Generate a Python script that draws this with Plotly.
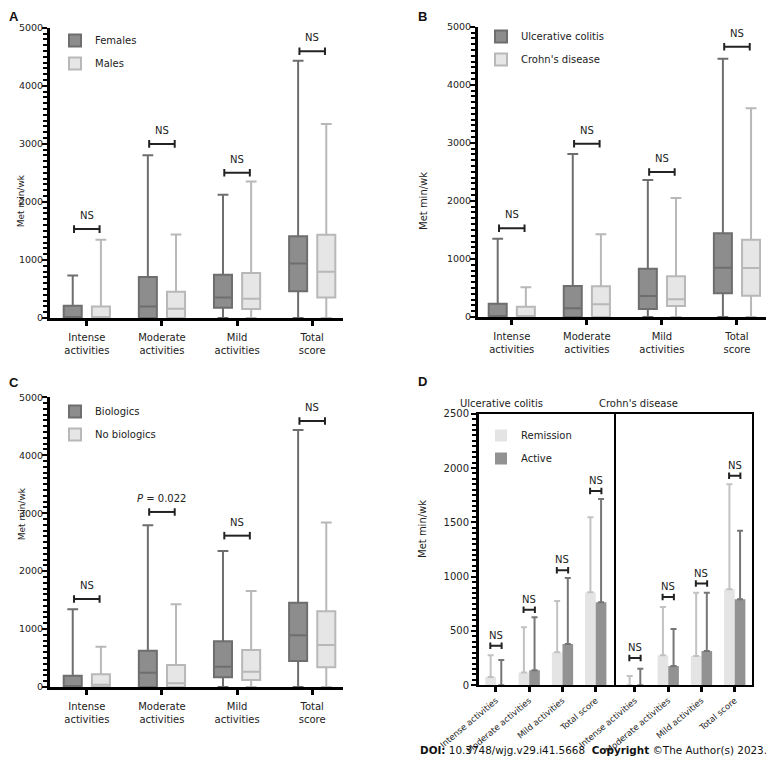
import plotly.graph_objects as go

FONT = "DejaVu Sans"
# the page body keeps an 8px margin, so the figure is drawn 8px smaller
# and every reference pixel position is shifted by that offset
PAGE = 774
OFF = 8
W = H = PAGE - OFF

# ============ data ============
categories = ["Intense activities", "Moderate activities", "Mild activities", "Total score"]
tick_text = ["Intense<br>activities", "Moderate<br>activities", "Mild<br>activities", "Total<br>score"]

# A: sex (box stats, Met min/wk)
a_names = ["Females", "Males"]
a_low = [[0, 0, 0, 0], [0, 0, 0, 0]]
a_q1 = [[0, 0, 178, 459], [0, 0, 155, 355]]
a_med = [[0, 200, 355, 940], [0, 160, 333, 797]]
a_q3 = [[212, 705, 745, 1410], [200, 453, 774, 1433]]
a_high = [[730, 2804, 2122, 4432], [1347, 1439, 2351, 3343]]
a_sig = ["NS", "NS", "NS", "NS"]
a_sig_y = [1531, 2999, 2500, 4593]

# B: disease type
b_names = ["Ulcerative colitis", "Crohn's disease"]
b_low = [[0, 0, 0, 0], [0, 0, 0, 0]]
b_q1 = [[0, 0, 138, 408], [0, 0, 189, 367]]
b_med = [[0, 149, 362, 850], [0, 218, 304, 844]]
b_q3 = [[230, 534, 832, 1441], [178, 528, 700, 1332]]
b_high = [[1349, 2807, 2359, 4449], [511, 1424, 2049, 3594]]
b_sig = ["NS", "NS", "NS", "NS"]
b_sig_y = [1527, 2985, 2497, 4656]

# C: biologics
c_names = ["Biologics", "No biologics"]
c_low = [[0, 0, 0, 0], [0, 0, 0, 0]]
c_q1 = [[0, 0, 167, 449], [0, 0, 121, 339]]
c_med = [[0, 247, 351, 892], [40, 63, 265, 725]]
c_q3 = [[196, 627, 788, 1456], [219, 380, 639, 1306]]
c_high = [[1341, 2790, 2347, 4436], [696, 1427, 1657, 2837]]
c_sig = ["NS", "<i>P</i> = 0.022", "NS", "NS"]
c_sig_y = [1519, 3021, 2612, 4591]

# D: disease activity, mean + SD
d_groups = ["Ulcerative colitis", "Crohn's disease"]
d_names = ["Remission", "Active"]
d_uc_mean = [[77, 117, 304, 856], [0, 138, 380, 764]]
d_uc_sd = [[199, 417, 472, 690], [233, 488, 608, 951]]
d_cd_mean = [[0, 276, 270, 883], [0, 178, 316, 791]]
d_cd_sd = [[86, 445, 583, 967], [153, 340, 537, 632]]
d_uc_sig_y = [365, 696, 1058, 1788]
d_cd_sig_y = [252, 813, 936, 1929]

# ============ styles ============
DARK_FILL, DARK_LINE = "#8d8d8d", "#6e6e6e"
LIGHT_FILL, LIGHT_LINE = "#e6e6e6", "#b8b8b8"
BAR_LIGHT, BAR_LIGHT_ERR = "#e4e4e4", "#c2c2c2"
BAR_DARK, BAR_DARK_ERR = "#929292", "#767676"


def px(x):
    return (x - OFF) / W


def py(y):
    return 1 - (y - OFF) / H


fig = go.Figure()


def add_boxes(names, low, q1, med, q3, high, xa, ya, legend):
    styles = [(DARK_FILL, DARK_LINE), (LIGHT_FILL, LIGHT_LINE)]
    for i, name in enumerate(names):
        fill, line = styles[i]
        fig.add_trace(go.Box(
            x=categories, q1=q1[i], median=med[i], q3=q3[i],
            lowerfence=low[i], upperfence=high[i],
            name=name, fillcolor=fill, line=dict(color=line, width=2),
            whiskerwidth=0.6, boxpoints=False, hoverinfo="skip",
            xaxis=xa, yaxis=ya, legend=legend, legendgroup=xa + str(i),
            offsetgroup=str(i),
        ))


def add_brackets(xref, yref, ys, texts, cap, shift, half=0.17):
    for i, (y, t) in enumerate(zip(ys, texts)):
        kw = dict(type="line", xref=xref, yref=yref, line=dict(color="#222", width=2))
        fig.add_shape(x0=i - half, x1=i + half, y0=y, y1=y, **kw)
        fig.add_shape(x0=i - half, x1=i - half, y0=y - cap, y1=y + cap, **kw)
        fig.add_shape(x0=i + half, x1=i + half, y0=y - cap, y1=y + cap, **kw)
        fig.add_annotation(x=i, y=y, xref=xref, yref=yref, text=t, showarrow=False,
                           yanchor="bottom", yshift=shift, font=dict(size=10, color="#222"))


add_boxes(a_names, a_low, a_q1, a_med, a_q3, a_high, "x", "y", "legend")
add_boxes(b_names, b_low, b_q1, b_med, b_q3, b_high, "x2", "y2", "legend2")
add_boxes(c_names, c_low, c_q1, c_med, c_q3, c_high, "x3", "y3", "legend3")
add_brackets("x", "y", a_sig_y, a_sig, 65, 6)
add_brackets("x2", "y2", b_sig_y, b_sig, 65, 6)
add_brackets("x3", "y3", c_sig_y, c_sig, 65, 6)

# D bars
bar_styles = [(BAR_LIGHT, BAR_LIGHT_ERR), (BAR_DARK, BAR_DARK_ERR)]
for means, sds, xa, ya in [(d_uc_mean, d_uc_sd, "x4", "y4"), (d_cd_mean, d_cd_sd, "x5", "y5")]:
    for i, name in enumerate(d_names):
        fill, err = bar_styles[i]
        fig.add_trace(go.Bar(
            x=categories, y=means[i], name=name, marker=dict(color=fill, line=dict(width=0)),
            error_y=dict(type="data", symmetric=False, array=sds[i], arrayminus=[0] * 4,
                         color=err, thickness=2, width=3),
            xaxis=xa, yaxis=ya, legend="legend4", showlegend=(xa == "x4"),
            legendgroup="d" + str(i), hoverinfo="skip",
        ))
add_brackets("x4", "y4", d_uc_sig_y, ["NS"] * 4, 30, 3)
add_brackets("x5", "y5", d_cd_sig_y, ["NS"] * 4, 30, 3)

# ============ axes ============
tick_font = dict(family=FONT, size=10, color="#222")


def box_axes(xd, yd, xr, anchor):
    xa = dict(domain=[px(xd[0]), px(xd[1])], range=xr, type="category", anchor="y" + anchor,
              tickvals=categories, ticktext=tick_text, showline=True, linewidth=2.5,
              linecolor="black", ticks="outside", ticklen=5, tickwidth=2.5, tickcolor="black",
              showgrid=False, zeroline=False, tickfont=tick_font, layer="below traces",
              ticklabelstandoff=3, automargin=False)
    ya = dict(domain=[py(yd[0]), py(yd[1])], range=[0, 5000], dtick=1000, anchor="x" + anchor,
              showline=True, linewidth=3, linecolor="black", ticks="outside", ticklen=5, tickwidth=2,
              tickcolor="black", showgrid=False, zeroline=False,
              tickfont=dict(family=FONT, size=9.5, color="#222"), ticklabelstandoff=-3,
              minor=dict(dtick=100, ticks="outside", ticklen=4, tickwidth=2, tickcolor="black"),
              automargin=False)
    return xa, ya


xa1, ya1 = box_axes((50, 343), (318, 27.7), [-0.49, 3.41], "")
xa2, ya2 = box_axes((478, 770), (317, 26.7), [-0.45, 3.44], "2")
xa3, ya3 = box_axes((50, 343), (687, 397.3), [-0.49, 3.41], "3")

d_y_dom = [py(685.3), py(413.7)]
d_x_common = dict(type="category", tickvals=categories, ticktext=categories, showline=True,
                  mirror=True, linewidth=2, linecolor="black", ticks="outside", ticklen=5,
                  tickwidth=2.5, tickcolor="black", tickangle=-40, showgrid=False, zeroline=False,
                  tickfont=dict(family=FONT, size=8.5, color="#222"), automargin=False)
xa4 = dict(d_x_common, domain=[px(479), px(615.7)], range=[-0.51, 3.6], anchor="y4")
xa5 = dict(d_x_common, domain=[px(615.7), px(751.7)], range=[-0.58, 3.51], anchor="y5")
ya4 = dict(domain=d_y_dom, range=[0, 2500], dtick=500, anchor="x4", showline=True, linewidth=3,
           linecolor="black", ticks="outside", ticklen=5, tickwidth=2, tickcolor="black",
           showgrid=False, zeroline=False, tickfont=tick_font, automargin=False,
           minor=dict(dtick=50, ticks="outside", ticklen=4, tickwidth=2, tickcolor="black"))
ya5 = dict(domain=d_y_dom, range=[0, 2500], anchor="x5", showline=True, mirror=True, linewidth=1.5,
           linecolor="black", showticklabels=False, ticks="", showgrid=False, zeroline=False,
           automargin=False)

legend_common = dict(bgcolor="rgba(0,0,0,0)", font=dict(family=FONT, size=10, color="#222"),
                     traceorder="grouped", tracegroupgap=4, xanchor="left", yanchor="top")

fig.update_layout(
    width=W, height=H, margin=dict(l=0, r=0, t=0, b=0, autoexpand=False),
    paper_bgcolor="white", plot_bgcolor="white",
    font=dict(family=FONT, size=10, color="#222"),
    boxmode="group", boxgap=0.25, boxgroupgap=0.36,
    barmode="group", bargap=0.36, bargroupgap=0,
    xaxis=xa1, yaxis=ya1, xaxis2=xa2, yaxis2=ya2, xaxis3=xa3, yaxis3=ya3,
    xaxis4=xa4, yaxis4=ya4, xaxis5=xa5, yaxis5=ya5,
    legend=dict(legend_common, x=px(55), y=py(26)),
    legend2=dict(legend_common, x=px(481), y=py(22)),
    legend3=dict(legend_common, x=px(55), y=py(397)),
    legend4=dict(legend_common, x=px(481), y=py(421)),
)

# y-axis titles
for x, y, size in [(14.8, 172, 9), (423, 170, 10), (14.8, 542, 9), (422, 560, 10)]:
    fig.add_annotation(x=px(x), y=py(y), xref="paper", yref="paper", text="Met min/wk",
                       textangle=-90, showarrow=False, font=dict(family=FONT, size=size, color="#222"))

# panel letters
for letter, x, y in [("A", 8, 8), ("B", 417, 8), ("C", 8, 374), ("D", 417, 373)]:
    fig.add_annotation(x=px(x), y=py(y), xref="paper", yref="paper", text="<b>" + letter + "</b>",
                       showarrow=False, xanchor="left", yanchor="top", borderpad=0,
                       font=dict(family="Liberation Sans", size=13, color="#111"))

# D subplot titles
for name, x in zip(d_groups, [545, 680]):
    fig.add_annotation(x=px(x), y=py(403), xref="paper", yref="paper", text=name,
                       showarrow=False, font=dict(family=FONT, size=10, color="#222"))

fig.add_annotation(x=px(769), y=py(758), xref="paper", yref="paper", xanchor="right",
                   text="<b>DOI:</b> 10.3748/wjg.v29.i41.5668\u00a0 <b>Copyright</b> \u00a9The Author(s) 2023.",
                   showarrow=False, font=dict(family=FONT, size=10.4, color="#111"))

fig.write_html("out.html")
